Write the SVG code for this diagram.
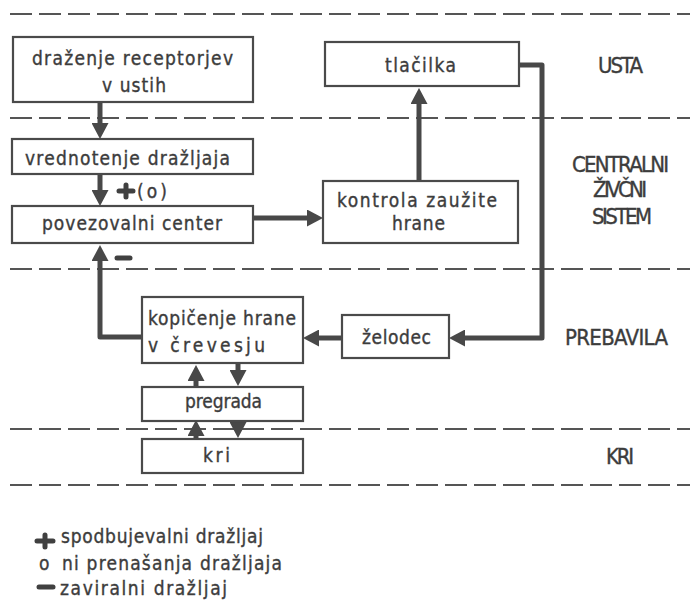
<svg xmlns="http://www.w3.org/2000/svg" width="693" height="604" viewBox="0 0 693 604">
<style>
.bg{fill:#fff}
.box{fill:#fff;stroke:#4a4a4a;stroke-width:2.2}
.dash{fill:none;stroke:#555;stroke-width:2;stroke-dasharray:22 7}
.con{fill:none;stroke:#484848;stroke-width:5;stroke-linejoin:round}
.t{font-family:"DejaVu Sans Condensed","Liberation Sans Narrow","Liberation Sans",sans-serif;font-size:19px;fill:#3c3c3c;stroke:#3c3c3c;stroke-width:0.35}
.c{font-family:"DejaVu Sans Condensed","Liberation Sans Narrow","Liberation Sans",sans-serif;font-size:22px;fill:#3c3c3c;stroke:#3c3c3c;stroke-width:0.35}
.sym{fill:none;stroke:#404040;stroke-width:5;stroke-linecap:round}
</style>
<defs>
<marker id="ah" viewBox="0 0 16 17" refX="0" refY="8.5" markerWidth="16" markerHeight="17" markerUnits="userSpaceOnUse" orient="auto">
<path d="M0,0 L16,8.5 L0,17 z" fill="#484848"/>
</marker>
</defs>
<rect class="bg" x="0" y="0" width="693" height="604"/>
<g id="zones">
<line class="dash" x1="10" y1="14" x2="690" y2="14"/>
<line class="dash" x1="10" y1="118" x2="690" y2="118"/>
<line class="dash" x1="10" y1="269" x2="690" y2="269"/>
<line class="dash" x1="10" y1="429" x2="690" y2="429"/>
<line class="dash" x1="10" y1="485" x2="690" y2="485"/>
<text class="c" x="598" y="73" textLength="45">USTA</text>
<text class="c" x="572" y="172" textLength="97">CENTRALNI</text>
<text class="c" x="593" y="197" textLength="54">ŽIVČNI</text>
<text class="c" x="592" y="224" textLength="60">SISTEM</text>
<text class="c" x="565" y="345" textLength="103">PREBAVILA</text>
<text class="c" x="606" y="464" textLength="28">KRI</text>
</g>
<g id="connectors">
<path class="con" d="M100,102 V123" marker-end="url(#ah)"/>
<path class="con" d="M100,174 V190" marker-end="url(#ah)"/>
<path class="con" d="M253,218 H307" marker-end="url(#ah)"/>
<path class="con" d="M419,181 V104" marker-end="url(#ah)"/>
<path class="con" d="M519,65 H542 V338 H465" marker-end="url(#ah)"/>
<path class="con" d="M342,338 H319" marker-end="url(#ah)"/>
<path class="con" d="M142,337 H100 V261" marker-end="url(#ah)"/>
<path class="con" d="M196,387 V381" marker-end="url(#ah)"/>
<path class="con" d="M238,363 V370" marker-end="url(#ah)"/>
<path class="con" d="M196,439 V436" marker-end="url(#ah)"/>
<path class="con" d="M238,421 V422" marker-end="url(#ah)"/>
<path class="sym" d="M126,185 V197 M119,191 H133"/>
<text class="t" x="137" y="198" textLength="30">(o)</text>
<path class="sym" d="M117,258 H130"/>
</g>
<g id="n-drazenje">
<rect class="box" x="13" y="37" width="240" height="65"/>
<text class="t" x="32" y="65" textLength="201">draženje receptorjev</text>
<text class="t" x="102" y="92" textLength="64">v ustih</text>
</g>
<g id="n-tlacilka">
<rect class="box" x="325" y="42" width="194" height="44"/>
<text class="t" x="385" y="72" textLength="71">tlačilka</text>
</g>
<g id="n-vrednotenje">
<rect class="box" x="12" y="139" width="241" height="35"/>
<text class="t" x="25" y="165" textLength="205">vrednotenje dražljaja</text>
</g>
<g id="n-povezovalni">
<rect class="box" x="12" y="206" width="241" height="37"/>
<text class="t" x="42" y="230" textLength="180">povezovalni center</text>
</g>
<g id="n-kontrola">
<rect class="box" x="323" y="181" width="195" height="62"/>
<text class="t" x="337" y="207" textLength="160">kontrola zaužite</text>
<text class="t" x="392" y="230" textLength="53">hrane</text>
</g>
<g id="n-kopicenje">
<rect class="box" x="142" y="297" width="161" height="66"/>
<text class="t" x="148" y="325" textLength="148">kopičenje hrane</text>
<text class="t" x="148" y="352" textLength="117">v črevesju</text>
</g>
<g id="n-zelodec">
<rect class="box" x="342" y="315" width="107" height="43"/>
<text class="t" x="362" y="344" textLength="69">želodec</text>
</g>
<g id="n-pregrada">
<rect class="box" x="142" y="387" width="161" height="34"/>
<text class="t" x="185" y="408" textLength="77">pregrada</text>
</g>
<g id="n-kri">
<rect class="box" x="142" y="439" width="161" height="34"/>
<text class="t" x="203" y="462" textLength="27">kri</text>
</g>
<g id="legend">
<path class="sym" d="M45,535 V547 M37,541 H53"/>
<text class="t" x="61" y="543" textLength="202">spodbujevalni dražljaj</text>
<text class="t" x="39" y="570">o</text>
<text class="t" x="62" y="570" textLength="220">ni prenašanja dražljaja</text>
<path class="sym" d="M39,587 H53"/>
<text class="t" x="60" y="595" textLength="167">zaviralni dražljaj</text>
</g>
</svg>
